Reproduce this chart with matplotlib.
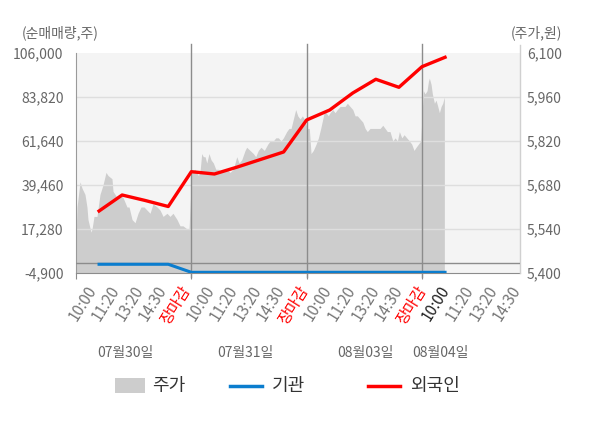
import matplotlib.pyplot as plt
from matplotlib.lines import Line2D
from matplotlib.patches import Rectangle

plt.rcParams['font.family'] = ['Noto Sans CJK KR', 'DejaVu Sans']

# 주가 (원) - x는 일자 인덱스 + 장중 위치
price_x = [0.000, 0.009, 0.035, 0.052, 0.078, 0.095, 0.104, 0.130, 0.139, 0.156,
           0.182, 0.208, 0.234, 0.260, 0.278, 0.312, 0.321, 0.356, 0.382, 0.408,
           0.442, 0.460, 0.486, 0.512, 0.538, 0.564, 0.590, 0.616, 0.642, 0.668,
           0.703, 0.729, 0.755, 0.789, 0.815, 0.841, 0.876, 0.902, 0.928, 0.963,
           0.980,
           1.003, 1.032, 1.061, 1.075, 1.090, 1.104, 1.119, 1.134, 1.153, 1.171,
           1.191, 1.212, 1.234, 1.264, 1.286, 1.307, 1.336, 1.364, 1.394, 1.414,
           1.437, 1.466, 1.480, 1.509, 1.538, 1.558, 1.581, 1.604, 1.633, 1.663,
           1.683, 1.711, 1.732, 1.755, 1.778, 1.798, 1.827, 1.847, 1.865, 1.885,
           1.905, 1.923, 1.943, 1.963, 1.980,
           2.006, 2.023, 2.038, 2.058, 2.082, 2.102, 2.122, 2.140, 2.151, 2.168,
           2.188, 2.203, 2.226, 2.246, 2.266, 2.290, 2.313, 2.333, 2.353, 2.376,
           2.400, 2.420, 2.440, 2.463, 2.487, 2.507, 2.526, 2.550, 2.573, 2.593,
           2.613, 2.637, 2.660, 2.680, 2.700, 2.723, 2.747, 2.767, 2.787, 2.804,
           2.825, 2.845, 2.868, 2.891, 2.911, 2.931, 2.949, 2.969, 2.989,
           3.012, 3.027, 3.044, 3.056, 3.064, 3.079, 3.090, 3.108, 3.122, 3.137,
           3.151, 3.166, 3.180, 3.194]
price_y = [5500, 5610, 5690, 5670, 5650, 5610, 5570, 5530, 5540, 5580,
           5580, 5650, 5680, 5720, 5710, 5700, 5660, 5640, 5650, 5640,
           5610, 5610, 5570, 5560, 5590, 5610, 5610, 5600, 5590, 5620,
           5610, 5600, 5580, 5590, 5580, 5590, 5570, 5550, 5550, 5540,
           5540,
           5720, 5730, 5710, 5720, 5780, 5770, 5770, 5750, 5780, 5760,
           5750, 5730, 5730, 5720, 5730, 5730, 5720, 5730, 5770, 5750,
           5760, 5790, 5800, 5790, 5780, 5770, 5790, 5800, 5790, 5810,
           5820, 5820, 5830, 5830, 5820, 5830, 5850, 5860, 5860, 5890,
           5920, 5900, 5890, 5900, 5890,
           5860, 5860, 5780, 5790, 5810, 5830, 5860, 5890, 5910, 5910,
           5900, 5910, 5920, 5910, 5920, 5930, 5930, 5930, 5940, 5930,
           5920, 5900, 5900, 5890, 5880, 5860, 5850, 5860, 5860, 5860,
           5860, 5860, 5870, 5860, 5850, 5850, 5820, 5830, 5820, 5850,
           5830, 5840, 5830, 5820, 5810, 5790, 5800, 5810, 5820,
           5980, 5970, 5980, 6010, 6020, 6000, 5970, 5940, 5950, 5930,
           5910, 5930, 5940, 5960]

# 순매매량 (주) - 시간대별 누적
flow_x = [0.2, 0.4, 0.6, 0.8, 1.0, 1.2, 1.4, 1.6, 1.8, 2.0,
          2.2, 2.4, 2.6, 2.8, 3.0, 3.2]
foreign = [26350, 34420, 31650, 28620, 46170, 45010, 48540, 52320, 56100, 72230,
           77270, 85840, 92750, 88710, 99100, 103840]
inst = [-500, -500, -500, -500, -4550, -4550, -4550, -4550, -4550, -4550,
        -4550, -4550, -4550, -4550, -4550, -4550]

net_ticks = [-4900, 17280, 39460, 61640, 83820, 106000]
price_ticks = [5400, 5540, 5680, 5820, 5960, 6100]

slot_names = ['10:00', '11:20', '13:20', '14:30', '장마감']
tick_labels = slot_names * 3 + slot_names[:4]
tick_pos = [(24 + 23.57 * i) / 115.3 for i in range(19)]

day_labels = ['07월30일', '07월31일', '08월03일', '08월04일']
day_label_x = [0.425, 1.466, 2.507, 3.157]

W, H = 600, 428
fig = plt.figure(figsize=(W / 100, H / 100), dpi=100)
ax = fig.add_axes([76 / W, 1 - 273 / H, 444 / W, 220 / H])
ax_net = ax.twinx()

ax.set_facecolor('#f4f4f4')
ax.fill_between(price_x, price_y, 5400, color='#cdcdcd', lw=0, zorder=1)
for t in price_ticks[1:-1]:
    ax.axhline(t, color='#dedede', lw=1, zorder=2)
for d in [1, 2, 3]:
    ax.axvline(d, ymin=-0.018, ymax=1.04, color='#8c8c8c', lw=1, zorder=3, clip_on=False)
ax.axvline(3.85, ymin=0, ymax=1.035, color='#d0d0d0', lw=1, zorder=3, clip_on=False)

ax.set_xlim(0, 3.85)
ax.set_ylim(5400, 6100)
ax_net.set_ylim(-4900, 106000)

ax_net.axhline(0, color='#8c8c8c', lw=1, zorder=2)
ax_net.plot(flow_x, inst, color='#0b7dce', lw=2.2, zorder=4)
ax_net.plot(flow_x, foreign, color='#ff0000', lw=2.4, zorder=5)

for s in ['top', 'right']:
    ax.spines[s].set_visible(False)
ax.spines['left'].set_color('#9a9a9a')
ax.spines['bottom'].set_color('#8c8c8c')
for s in ax_net.spines.values():
    s.set_visible(False)

# 오른쪽: 주가 / 왼쪽: 순매매량
ax.yaxis.tick_right()
ax.set_yticks(price_ticks)
ax.set_yticklabels([f'{v:,}' for v in price_ticks])
ax.tick_params(axis='y', length=0, pad=5, labelsize=10, labelcolor='#666666')

ax_net.yaxis.tick_left()
ax_net.set_yticks(net_ticks)
ax_net.set_yticklabels([f'{v:,}' for v in net_ticks])
ax_net.tick_params(axis='y', length=0, pad=9, labelsize=10, labelcolor='#666666')

# x축: 일자 경계 눈금 + 시간 라벨
ax.set_xticks([0, 1, 2, 3])
ax.set_xticklabels([])
ax.tick_params(axis='x', length=4, color='#8c8c8c')
for i, (x, lab) in enumerate(zip(tick_pos, tick_labels)):
    col = '#777777'
    if lab == '장마감':
        col = '#ff0000'
    elif i == 15:
        col = '#222222'
    ax.text(x, -0.045, lab, transform=ax.get_xaxis_transform(), rotation=58,
            ha='right', va='top', fontsize=11, color=col, clip_on=False)

for x, txt in zip(day_label_x, day_labels):
    ax.text(x, -0.365, txt, transform=ax.get_xaxis_transform(), ha='center', va='center',
            fontsize=10, color='#666666')

fig.text(22 / W, 1 - 33 / H, '(순매매량,주)', ha='left', va='center', fontsize=10, color='#666666')
fig.text(562 / W, 1 - 33 / H, '(주가,원)', ha='right', va='center', fontsize=10, color='#666666')

# 범례
ly = 1 - 386 / H
fig.patches.append(Rectangle((115 / W, 1 - 393 / H), 30 / W, 15 / H, transform=fig.transFigure,
                             color='#cdcdcd', lw=0))
fig.text(152 / W, ly, '주가', ha='left', va='center', fontsize=13, color='#333333')
fig.lines.append(Line2D([230 / W, 262 / W], [ly, ly], transform=fig.transFigure,
                        color='#0b7dce', lw=2.5))
fig.text(272 / W, ly, '기관', ha='left', va='center', fontsize=13, color='#333333')
fig.lines.append(Line2D([368 / W, 400 / W], [ly, ly], transform=fig.transFigure,
                        color='#ff0000', lw=2.5))
fig.text(410 / W, ly, '외국인', ha='left', va='center', fontsize=13, color='#333333')

fig.savefig('out.png', dpi=100)
